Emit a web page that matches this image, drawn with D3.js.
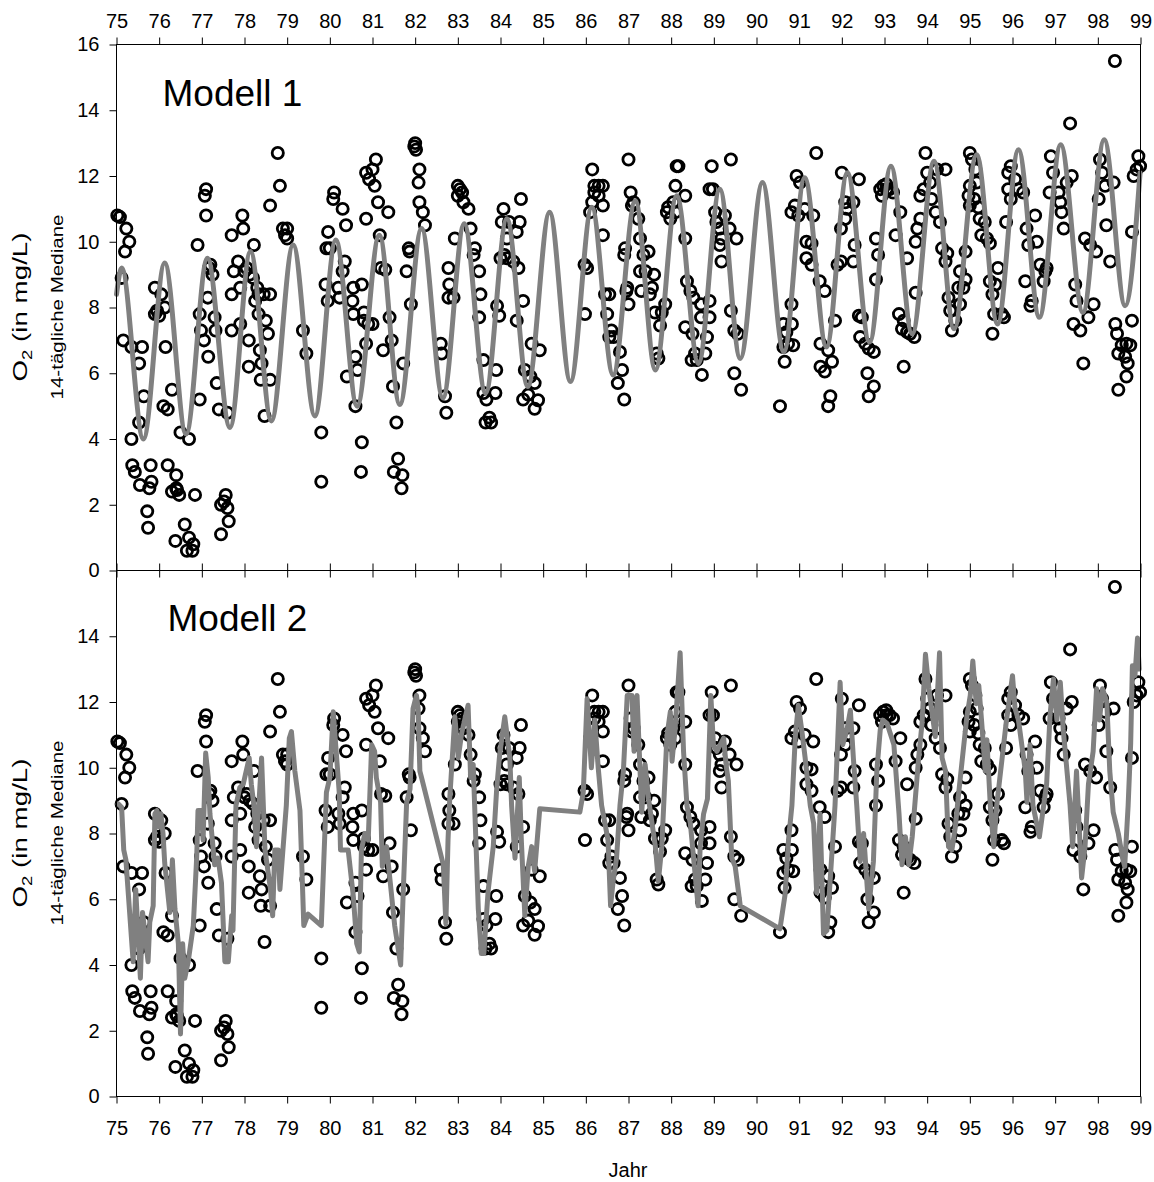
<!DOCTYPE html>
<html><head><meta charset="utf-8">
<script src="https://cdn.jsdelivr.net/npm/d3@7"></script>
<style>body{margin:0;background:#fff} text{font-family:"Liberation Sans",Arial,sans-serif;fill:#000}</style>
</head><body><svg id="chart" width="1154" height="1182"></svg>
<script>
const yearTicks = [75,76,77,78,79,80,81,82,83,84,85,86,87,88,89,90,91,92,93,94,95,96,97,98,99];
const o2TicksTop = [0,2,4,6,8,10,12,14,16];
const o2TicksBottom = [0,2,4,6,8,10,12,14];
const panelTitles = ["Modell 1","Modell 2"];

// observed 14-day medians [year, O2 mg/L]
const observations = [
[75.02,10.8],[75.08,10.75],[75.23,10.4],[75.3,10.0],[75.2,9.7],[75.12,8.9],[75.16,7.0],[75.35,6.8],[75.6,6.8],[75.53,6.3],
[75.64,5.3],[75.53,4.5],[75.35,4.0],[75.37,3.2],[75.43,3.0],[75.55,2.6],[75.8,3.2],[75.82,2.7],[75.77,2.5],[75.72,1.8],
[75.74,1.3],[75.9,8.6],[76.05,8.4],[75.9,7.8],[75.95,7.9],[76.0,7.75],[76.13,8.0],[76.15,6.8],[76.1,5.0],[76.2,4.9],
[76.3,5.5],[76.2,3.2],[76.4,2.9],[76.3,2.4],[76.4,2.5],[76.47,2.3],[76.42,2.45],[76.84,2.3],[76.6,1.4],[76.38,0.9],
[76.7,1.0],[76.65,0.6],[76.78,0.6],[76.8,0.8],[76.5,4.2],[76.7,4.0],[76.9,9.9],[77.1,11.6],[77.07,11.4],[77.1,10.8],
[77.2,9.3],[77.17,9.2],[77.25,9.0],[77.14,8.3],[76.95,7.8],[76.98,7.3],[77.05,7.0],[77.3,7.7],[77.32,7.3],[77.15,6.5],
[76.95,5.2],[77.35,5.7],[77.4,4.9],[77.6,4.8],[77.45,2.0],[77.52,2.1],[77.56,2.3],[77.6,1.9],[77.63,1.5],[77.45,1.1],
[77.7,10.2],[77.95,10.8],[77.97,10.4],[77.75,9.1],[77.85,9.4],[78.0,9.1],[78.05,9.2],[78.12,9.0],[78.2,8.9],[78.22,9.9],
[77.7,8.4],[77.9,8.6],[78.3,8.6],[78.33,8.4],[78.25,8.2],[78.33,7.8],[77.9,7.5],[77.7,7.3],[78.1,7.0],[78.36,6.7],
[78.4,6.3],[78.38,5.8],[78.1,6.2],[78.5,7.6],[78.55,7.2],[78.45,8.4],[78.6,8.4],[78.6,5.8],[78.47,4.7],[78.6,11.1],
[78.78,12.7],[78.83,11.7],[78.9,10.4],[79.0,10.4],[78.95,10.2],[79.0,10.1],[79.37,7.3],[79.45,6.6],[79.8,4.2],[79.8,2.7],
[79.96,10.3],[79.92,9.8],[80.0,9.8],[79.9,8.7],[79.95,8.2],[80.1,11.5],[80.08,11.3],[80.3,11.0],[80.38,10.5],[80.35,9.4],
[80.3,9.1],[80.2,8.6],[80.23,8.3],[80.55,8.6],[80.53,8.2],[80.55,7.8],[80.8,7.85],[80.6,6.5],[80.4,5.9],[80.65,6.1],
[80.6,5.0],[80.75,3.9],[80.73,3.0],[80.85,12.1],[80.92,11.9],[80.85,10.7],
[81.08,12.5],[81.0,12.2],[81.05,11.7],[81.13,11.2],[81.37,10.9],[81.17,10.2],[81.2,9.2],[81.3,9.15],[80.75,8.7],[80.8,7.6],
[80.9,7.5],[81.0,7.5],[80.85,6.9],[81.25,6.7],[81.4,7.7],[81.45,7.0],[81.72,6.3],[81.48,5.6],[81.56,4.5],[81.6,3.4],
[81.5,3.0],[81.7,2.9],[81.68,2.5],[82.0,13.0],[81.98,12.9],[82.02,12.8],[82.1,12.2],[82.08,11.8],[82.1,11.2],[82.18,10.9],
[82.23,10.5],[81.85,9.8],[81.87,9.7],[81.8,9.1],[81.9,8.1],[82.6,6.9],[82.62,6.6],[82.7,5.3],[82.73,4.8],[82.78,9.2],
[82.8,8.7],[82.78,8.3],[82.9,8.3],[82.93,10.1],[83.0,11.7],[83.05,11.6],[83.1,11.5],[83.0,11.4],[83.13,11.2],[83.25,11.0],
[83.3,10.4],[83.4,9.8],[83.37,9.6],[83.5,9.1],[83.53,8.4],[83.5,7.7],[83.6,6.4],[83.9,6.1],[83.6,5.4],[83.88,5.4],
[83.67,5.2],[83.65,4.5],[83.78,4.5],[83.74,4.65],[83.92,8.05],[83.97,7.75],[84.0,9.5],[84.09,9.6],[84.15,9.5],[84.3,9.4],
[84.42,9.2],[84.07,11.0],[84.03,10.6],[84.2,10.6],[84.15,10.1],[84.38,10.3],[84.45,10.6],[84.48,11.3],[84.53,8.2],[84.38,7.6],
[84.73,6.9],[84.92,6.7],[84.57,6.1],[84.7,5.9],[84.8,5.7],[84.53,5.2],[84.65,5.35],[84.8,4.92],[84.88,5.18],
[85.97,9.3],[86.03,9.2],[85.98,7.8],[86.15,12.2],[86.2,11.7],[86.3,11.7],[86.4,11.7],[86.2,11.5],[86.3,11.4],[86.4,11.1],
[86.1,10.9],[86.15,11.2],[86.4,10.2],[86.45,8.4],[86.55,8.4],[86.5,7.8],[86.6,7.3],[86.55,7.1],[86.65,7.1],[86.8,6.65],
[86.85,6.1],[86.75,5.7],[86.9,5.2],[86.9,9.6],[86.92,9.8],[86.97,8.6],[87.0,8.1],[87.0,12.5],[87.05,11.5],
[87.12,11.2],[87.08,11.1],[87.23,10.7],[87.27,10.1],[87.47,9.7],[87.35,9.6],[87.27,9.1],[87.4,9.1],[87.6,9.0],[86.95,8.5],
[87.3,8.5],[87.5,8.4],[87.55,8.6],[87.62,7.85],[87.78,7.85],[87.86,8.1],[87.74,7.45],[87.66,6.6],[87.7,6.45],
[88.13,12.3],[88.17,12.3],[88.1,11.7],[87.93,11.05],[87.9,10.9],[87.98,10.7],[88.05,11.2],[88.1,10.9],[88.33,11.4],[88.33,10.1],
[88.37,8.8],[88.45,8.5],[88.52,8.3],[88.33,7.4],[88.5,7.2],[88.7,7.7],[88.9,7.7],[88.7,8.1],[88.9,8.2],[88.56,6.6],
[88.48,6.4],[88.6,6.4],[88.84,7.1],[88.8,6.6],[88.72,5.95],[88.95,12.3],[88.98,11.6],[88.9,11.6],[89.4,12.5],[89.03,10.9],
[89.06,10.6],[89.26,10.8],[89.14,10.4],[89.18,10.1],[89.14,9.9],[89.37,10.4],[89.53,10.1],[89.18,9.4],[89.4,7.9],[89.48,7.3],
[89.56,7.2],[89.48,6.0],[89.64,5.5],
[90.55,5.0],[90.63,7.5],[90.7,7.25],[90.83,7.5],[90.63,6.8],[90.74,6.9],[90.86,6.85],[90.82,8.1],[90.66,6.35],[90.94,12.0],
[91.02,11.8],[90.82,10.9],[90.9,11.1],[90.98,10.8],[91.13,11.0],[91.33,10.8],[91.17,10.0],[91.29,9.95],[91.17,9.5],[91.29,9.3],
[91.48,8.8],[91.6,8.5],[91.4,12.7],[91.5,6.9],[91.68,6.7],[91.5,6.2],[91.6,6.05],[91.77,6.35],[91.73,5.3],[91.68,5.0],
[91.84,7.6],[91.9,9.3],[91.98,9.4],[91.98,10.4],[92.0,12.1],[92.08,11.2],[92.12,11.0],[92.08,10.7],[92.27,11.2],[92.4,11.9],
[92.3,9.9],[92.27,9.4],[92.4,7.75],[92.47,7.7],[92.43,7.1],[92.55,6.9],[92.63,6.75],[92.75,6.65],[92.6,6.0],[92.75,5.6],
[92.63,5.3],[92.8,8.85],[92.85,9.6],[92.8,10.1],[92.9,11.6],[92.97,11.7],[93.04,11.75],[92.94,11.4],
[93.05,11.6],[93.12,11.6],[93.2,11.5],[93.37,10.9],[93.26,10.2],[93.53,9.5],[93.73,8.45],[93.34,7.8],[93.45,7.6],[93.41,7.35],
[93.53,7.25],[93.7,7.1],[93.6,7.2],[93.45,6.2],[93.96,12.7],[94.0,12.1],[93.92,11.6],[93.84,11.4],[94.07,11.8],[94.1,11.3],
[94.2,10.9],[94.3,10.6],[94.43,12.2],[94.23,12.2],[93.84,10.7],[93.77,10.4],[93.73,10.0],[94.35,9.8],[94.47,9.65],[94.43,9.4],
[94.77,9.1],[94.73,8.6],[94.85,8.6],[94.9,8.85],[94.77,8.1],[94.5,8.3],[94.54,7.9],[94.58,7.3],[94.66,7.6],[94.9,9.7],
[95.0,12.7],[95.05,12.5],[95.13,12.2],[95.16,11.8],[95.0,11.7],[94.97,11.4],[95.0,11.1],[95.1,11.3],[95.2,11.05],[95.23,10.7],
[95.27,10.2],[95.4,10.1],[95.47,9.95],[95.35,10.6],[95.47,8.8],[95.6,8.7],[95.66,9.2],[95.53,8.4],[95.57,7.8],[95.8,7.7],
[95.53,7.2],[95.75,7.8],[95.85,10.6],[95.9,11.6],[95.9,12.1],[95.96,12.3],[96.06,11.9],[96.14,11.6],[96.25,11.5],[95.96,11.3],
[96.33,10.4],[96.37,9.9],[96.3,8.8],[96.45,8.2],[96.53,10.8],[96.57,10.0],[96.65,9.3],[96.77,9.1],[96.73,8.8],[96.8,9.2],
[96.42,8.05],[96.9,12.6],[96.95,12.1],[96.87,11.5],[97.08,11.5],[97.15,10.9],[97.2,10.4],[97.12,11.2],[97.27,11.8],[97.39,12.0],
[97.35,13.6],[97.47,8.7],[97.5,8.2],[97.43,7.5],[97.59,7.3],[97.66,6.3],[97.78,7.7],[97.9,8.1],[97.82,9.9],[97.7,10.1],
[97.96,9.7],[98.05,12.5],[98.1,12.1],[98.17,11.7],[98.02,11.3],[98.2,10.5],[98.37,11.8],[98.29,9.4],[98.4,15.5],[98.41,7.5],
[98.45,7.2],[98.56,6.85],[98.67,6.9],[98.64,6.5],[98.48,6.6],[98.7,6.3],[98.67,5.9],[98.48,5.5],[98.8,7.6],[98.76,6.85],
[98.8,10.3],[98.84,12.0],[98.91,12.2],[98.95,12.6],[98.99,12.3]
];

// Modell 1: seasonal fit, read at its crests and troughs
const model1 = [
[75.0,8.4],[75.12,9.2],[75.63,4.0],[76.13,9.35],[76.63,4.15],[77.13,9.5],[77.66,4.35],[78.14,9.7],[78.63,4.55],[79.14,9.9],
[79.65,4.7],[80.14,10.05],[80.64,5.0],[81.16,10.2],[81.64,5.05],[82.15,10.4],[82.65,5.25],[83.15,10.55],[83.65,5.4],[84.15,10.7],
[84.64,5.6],[85.15,10.9],[85.64,5.75],[86.14,11.05],[86.64,5.95],[87.16,11.25],[87.63,6.1],[88.13,11.4],[88.64,6.3],[89.14,11.6],
[89.62,6.45],[90.14,11.8],[90.64,6.65],[91.13,11.95],[91.64,6.8],[92.13,12.1],[92.65,6.95],[93.15,12.3],[93.65,7.2],[94.16,12.45],
[94.63,7.35],[95.16,12.65],[95.65,7.5],[96.14,12.8],[96.63,7.7],[97.13,12.95],[97.65,7.85],[98.15,13.1],[98.64,8.05],[98.99,12.1]
];

// Modell 2: fitted values at the sampling dates
const model2 = [
[75.04,8.9],[75.12,8.8],[75.17,7.5],[75.22,7.2],[75.39,4.1],[75.45,6.3],[75.56,3.6],[75.61,5.6],[75.74,4.1],[75.78,5.3],
[75.86,5.8],[75.90,8.6],[75.95,8.7],[76.0,8.2],[76.04,8.6],[76.09,8.0],[76.13,7.1],[76.25,5.6],[76.31,7.2],[76.37,5.7],
[76.45,4.65],[76.5,1.9],[76.55,4.65],[76.6,3.6],[76.68,4.1],[76.8,5.2],[76.88,7.3],[76.91,8.7],[76.99,8.7],[77.03,7.8],
[77.09,10.45],[77.15,9.7],[77.19,8.6],[77.3,7.05],[77.38,7.25],[77.46,6.5],[77.54,4.1],[77.62,4.1],[77.7,5.5],[77.73,5.05],
[77.8,8.85],[77.89,9.4],[77.97,9.5],[78.11,10.3],[78.16,9.5],[78.22,8.85],[78.28,7.6],[78.4,10.3],[78.48,7.5],[78.61,6.3],
[78.66,5.5],[78.71,7.5],[78.79,7.5],[78.83,6.3],[78.98,8.85],[79.05,10.9],[79.1,11.1],[79.18,9.9],[79.3,8.7],[79.34,7.15],
[79.39,5.2],[79.49,5.55],[79.8,5.2],[79.92,9.25],[80.0,9.7],[80.08,11.7],[80.16,10.3],[80.22,9.25],[80.25,7.5],[80.43,7.5],
[80.55,6.1],[80.63,4.65],[80.69,4.4],[80.74,7.5],[80.82,8.0],[80.9,7.8],[80.98,10.7],[81.05,10.5],[81.09,9.7],[81.19,8.95],
[81.23,7.0],[81.33,7.6],[81.52,5.2],[81.66,4.0],[81.72,6.2],[81.8,8.95],[81.88,9.35],[81.95,11.8],[82.03,12.2],[82.07,11.8],
[82.11,9.9],[82.15,9.7],[82.66,7.05],[82.72,5.25],[82.77,7.8],[82.81,9.05],[82.93,11.55],[83.01,10.3],[83.09,11.05],[83.16,11.45],
[83.24,11.9],[83.3,9.7],[83.36,10.1],[83.48,5.7],[83.55,4.35],[83.61,4.35],[83.71,6.25],[83.83,7.6],[83.91,9.35],[83.98,10.4],
[84.1,11.55],[84.22,10.3],[84.26,8.85],[84.34,7.25],[84.44,9.7],[84.49,7.75],[84.57,5.5],[84.65,7.0],[84.73,7.6],[84.8,6.85],
[84.92,8.75],[85.86,8.65],[85.94,9.25],[86.03,12.1],[86.13,10.0],[86.21,11.45],[86.29,10.0],[86.37,8.85],[86.52,7.8],[86.58,5.8],
[86.64,6.55],[86.72,7.25],[86.8,8.85],[86.88,9.9],[86.97,12.2],[87.08,12.2],[87.13,10.5],[87.2,12.2],[87.31,8.65],[87.39,10.1],
[87.47,9.05],[87.63,7.6],[87.7,6.55],[87.78,7.6],[87.9,10.95],[87.98,11.7],[88.02,10.2],[88.09,11.15],[88.21,13.5],[88.29,10.5],
[88.37,8.85],[88.45,8.3],[88.63,5.8],[88.68,7.6],[88.76,8.6],[88.85,9.05],[88.93,12.2],[88.99,10.7],[89.07,10.5],[89.23,10.9],
[89.29,10.05],[89.34,9.6],[89.42,7.25],[89.5,7.0],[89.62,5.8],[90.55,5.1],[90.67,6.15],[90.75,7.8],[90.83,8.85],[90.91,10.95],
[90.98,11.9],[91.06,11.15],[91.14,10.3],[91.26,8.85],[91.34,8.3],[91.41,6.2],[91.49,8.6],[91.57,4.95],[91.65,5.05],[91.84,8.85],
[91.96,12.6],[92.02,10.7],[92.12,11.15],[92.2,11.75],[92.27,10.3],[92.35,8.85],[92.43,7.15],[92.51,8.0],[92.63,5.7],[92.74,7.15],
[92.82,9.9],[92.9,11.15],[92.96,11.45],[93.06,11.35],[93.22,10.7],[93.34,8.6],[93.41,7.05],[93.49,7.9],[93.57,7.05],[93.65,7.9],
[93.8,10.3],[93.88,11.35],[93.96,13.45],[94.04,12.4],[94.19,10.95],[94.29,13.5],[94.35,10.3],[94.43,9.9],[94.5,7.6],[94.58,7.5],
[94.66,8.2],[94.74,9.25],[94.93,11.55],[95.01,12.2],[95.07,13.25],[95.15,11.95],[95.21,12.5],[95.28,11.35],[95.36,9.9],[95.4,10.85],
[95.48,8.85],[95.56,7.6],[95.63,8.85],[95.7,9.65],[95.85,11.35],[96.0,12.8],[96.06,11.8],[96.14,11.45],[96.3,9.9],[96.34,8.95],
[96.41,10.7],[96.48,8.85],[96.63,7.9],[96.73,8.85],[96.8,9.5],[96.88,11.6],[96.96,12.7],[97.04,11.45],[97.12,12.6],[97.19,11.15],
[97.27,10.0],[97.35,8.85],[97.41,7.6],[97.5,9.9],[97.57,8.0],[97.62,6.65],[97.7,7.6],[97.78,9.5],[97.89,10.5],[97.97,12.4],
[98.04,11.45],[98.11,12.4],[98.21,12.0],[98.28,9.9],[98.36,8.65],[98.48,8.0],[98.58,7.25],[98.63,7.0],[98.71,8.85],[98.77,10.75],
[98.81,13.1],[98.87,12.8],[98.93,13.95],[98.97,13.0]
];

const svg = d3.select('#chart');
const L = 116.5, R = 1140.5, T = 44.5, M = 570.5, B = 1096.5;
const x = d3.scaleLinear().domain([75,99]).range([L,R]);
const panels = [
  {title: panelTitles[0], data: model1, curve: d3.curveMonotoneX, ticks: o2TicksTop,
   y: d3.scaleLinear().domain([0,16]).range([M,T]), tx: 162.5, ty: 105.5, yc: 307},
  {title: panelTitles[1], data: model2, curve: d3.curveLinear, ticks: o2TicksBottom,
   y: d3.scaleLinear().domain([0,16]).range([B,M]), tx: 167.5, ty: 630.5, yc: 833}
];

function styleAxis(g){
  g.select('.domain').remove();
  g.selectAll('.tick line').attr('stroke','#000').attr('stroke-width',1);
  g.selectAll('.tick text').attr('font-family','"Liberation Sans",Arial,sans-serif').attr('font-size',20).attr('fill','#000');
}

panels.forEach(p => {
  const gy = svg.append('g').attr('transform',`translate(${L},0)`)
    .call(d3.axisLeft(p.y).tickValues(p.ticks).tickSize(7).tickPadding(10).tickFormat(d3.format('d')));
  styleAxis(gy);

  svg.append('g').selectAll('circle').data(observations).join('circle')
    .attr('cx', d => x(d[0])).attr('cy', d => p.y(d[1])).attr('r', 5.6)
    .attr('fill','none').attr('stroke','#000').attr('stroke-width',2.8);

  const line = d3.line().x(d => x(d[0])).y(d => p.y(d[1])).curve(p.curve);
  svg.append('path').datum(p.data).attr('d', line)
    .attr('fill','none').attr('stroke','#808080').attr('stroke-width',5)
    .attr('stroke-linejoin','round').attr('stroke-linecap','round');

  svg.append('text').attr('x',p.tx).attr('y',p.ty).attr('font-size',37).text(p.title);

  const t1 = svg.append('text').attr('transform',`translate(27,${p.yc}) rotate(-90)`)
    .attr('text-anchor','middle').attr('font-size',21)
    .attr('textLength',149).attr('lengthAdjust','spacingAndGlyphs');
  t1.append('tspan').text('O');
  t1.append('tspan').attr('font-size',14).attr('dy',5).text('2');
  t1.append('tspan').attr('dy',-5).text(' (in mg/L)');
  svg.append('text').attr('transform',`translate(63,${p.yc}) rotate(-90)`)
    .attr('text-anchor','middle').attr('font-size',16)
    .attr('textLength',185).attr('lengthAdjust','spacingAndGlyphs')
    .text('14-tägliche Mediane');
});

// x axes
const gTop = svg.append('g').attr('transform',`translate(0,${T})`)
  .call(d3.axisTop(x).tickValues(yearTicks).tickSize(7).tickPadding(10).tickFormat(d3.format('d')));
styleAxis(gTop);
const gMid1 = svg.append('g').attr('transform',`translate(0,${M})`)
  .call(d3.axisBottom(x).tickValues(yearTicks).tickSize(7).tickFormat(''));
styleAxis(gMid1);
const gMid2 = svg.append('g').attr('transform',`translate(0,${M})`)
  .call(d3.axisTop(x).tickValues(yearTicks).tickSize(7).tickFormat(''));
styleAxis(gMid2);
const gBot = svg.append('g').attr('transform',`translate(0,${B})`)
  .call(d3.axisBottom(x).tickValues(yearTicks).tickSize(7).tickPadding(17).tickFormat(d3.format('d')));
styleAxis(gBot);

// frame
svg.append('rect').attr('x',L).attr('y',T).attr('width',R-L).attr('height',B-T)
  .attr('fill','none').attr('stroke','#000').attr('stroke-width',1);
svg.append('line').attr('x1',L).attr('x2',R).attr('y1',M).attr('y2',M)
  .attr('stroke','#000').attr('stroke-width',1);

svg.append('text').attr('x',628).attr('y',1177).attr('text-anchor','middle')
  .attr('font-size',20).text('Jahr');
</script></body></html>
